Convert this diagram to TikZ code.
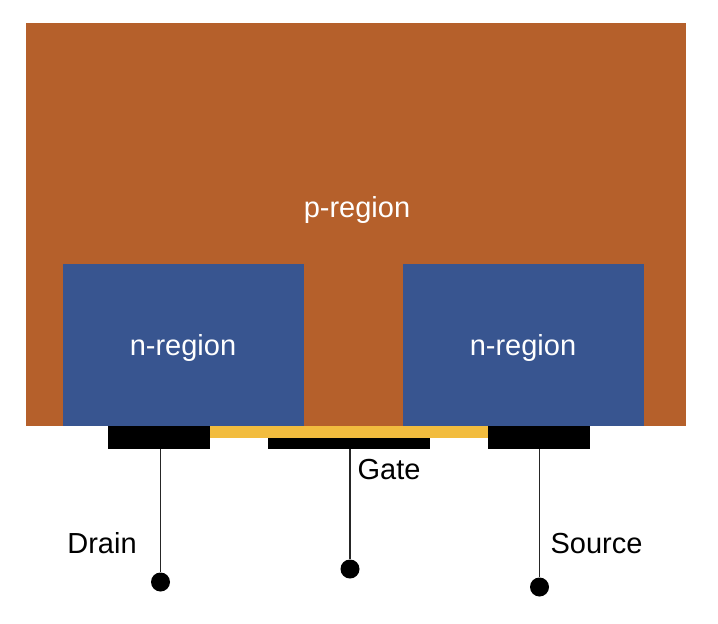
\documentclass[tikz,border=0pt]{standalone}
\usepackage{fontspec}
\setmainfont{Liberation Sans}
\definecolor{pbrown}{HTML}{B5602B}
\definecolor{nblue}{HTML}{385590}
\definecolor{oxide}{HTML}{F2BC3E}
\tikzset{
  block/.style={inner sep=0pt, outer sep=0pt, anchor=north west},
  pad/.style={block, fill=black},
  lead/.style={circle, fill=black, inner sep=0pt, minimum size=19pt},
  wire/.style={draw=black!85, line width=1.3pt},
  label/.style={anchor=base, inner sep=0pt, font=\fontsize{29}{29}\selectfont}
}
\begin{document}
\begin{tikzpicture}[x=1pt,y=-1pt]
 \useasboundingbox (0,0) rectangle (718,624);

 % semiconductor
 \node[block, fill=pbrown, minimum width=660pt, minimum height=403pt] (pregion) at (26,23) {};
 \node[block, fill=nblue, minimum width=241pt, minimum height=162pt] (nleft) at (63,264) {};
 \node[block, fill=nblue, minimum width=241pt, minimum height=162pt] (nright) at (403,264) {};

 % oxide and contacts
 \node[block, fill=oxide, minimum width=278pt, minimum height=12pt] (oxide) at (210,426) {};
 \node[pad, minimum width=102pt, minimum height=23pt] (drainpad) at (108,426) {};
 \node[pad, minimum width=162pt, minimum height=11pt] (gatepad) at (268,438) {};
 \node[pad, minimum width=102pt, minimum height=23pt] (sourcepad) at (488,426) {};

 % terminals
 \node[lead] (draindot) at (160.5,582) {};
 \node[lead] (gatedot) at (350,569) {};
 \node[lead] (sourcedot) at (539.5,587) {};
 \draw[wire] (drainpad.south -| draindot) -- (draindot);
 \draw[wire] (gatepad.south -| gatedot) -- (gatedot);
 \draw[wire] (sourcepad.south -| sourcedot) -- (sourcedot);

 % labels
 \node[label, text=white] (ptext) at (357,217) {p-region};
 \node[label, text=white] (nlefttext) at (183,355) {n-region};
 \node[label, text=white] (nrighttext) at (523,355) {n-region};
 \node[label] (gatetext) at (389,479) {Gate};
 \node[label] (draintext) at (102,553) {Drain};
 \node[label] (sourcetext) at (596.5,553) {Source};
\end{tikzpicture}
\end{document}
